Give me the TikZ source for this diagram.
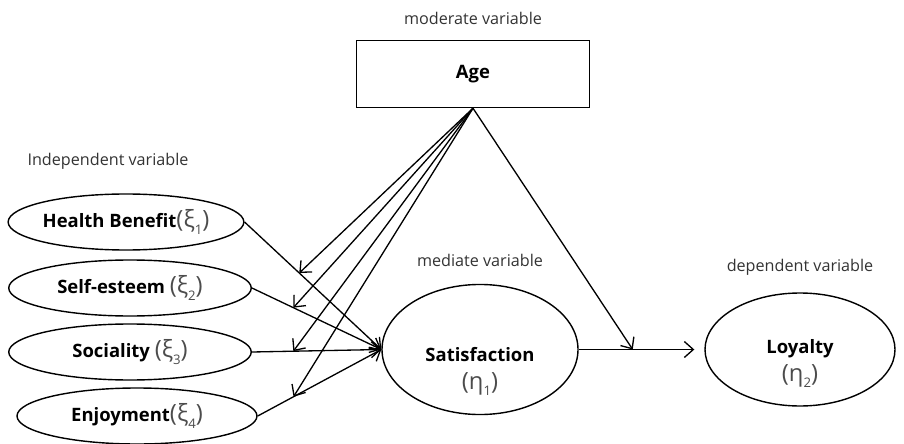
\documentclass[tikz,border=0pt]{standalone}
\usepackage{fontspec}
\setmainfont{Open Sans}
\usetikzlibrary{positioning, shapes.geometric, arrows.meta, calc}

\newcommand{\latvar}[2]{{\mdseries\fontsize{13.5}{13.5}\selectfont\color{black!70}(#1\raisebox{-0.5ex}{\fontsize{7.5}{7.5}\selectfont #2})}}

\begin{document}
\begin{tikzpicture}[
  font=\fontsize{10.5}{12}\selectfont,
  var/.style={draw, ellipse, line width=0.8pt, minimum width=4.85cm,
              minimum height=1.12cm, inner sep=0pt, font=\fontsize{10.5}{12}\selectfont\bfseries},
  bigvar/.style={draw, ellipse, line width=0.8pt, align=center, inner sep=0pt,
                 font=\fontsize{10.5}{14}\selectfont\bfseries},
  modbox/.style={draw, line width=0.8pt, minimum width=4.66cm, minimum height=1.34cm,
                 font=\fontsize{10.5}{12}\selectfont\bfseries},
  lbl/.style={font=\fontsize{9.2}{11}\selectfont, text=black!80},
  link/.style={-{Straight Barb[length=1.8mm, width=3.2mm]}, line width=0.75pt},
]

\useasboundingbox (0,0) rectangle (18.08,8.86);

\node[modbox] (age) at (9.46,7.38) {Age};
\node[lbl, above=0.18cm of age] (modlbl) {moderate variable};

\node[lbl] (indlbl) at (2.16,5.64) {Independent variable};
\node[var, minimum width=4.7cm] (hb) at (2.52,4.42) {Health Benefit\latvar{ξ}{1}};
\node[var] (se) at (2.60,3.10) {Self-esteem \latvar{ξ}{2}};
\node[var] (so) at (2.60,1.82) {Sociality \latvar{ξ}{3}};
\node[var, minimum width=4.8cm] (en) at (2.74,0.54) {Enjoyment\latvar{ξ}{4}};

\node[bigvar, minimum width=3.92cm, minimum height=2.42cm] (sat) at (9.60,1.87)
    {\rule{0pt}{1.15cm}Satisfaction \\[2pt] \latvar{η}{1}};
\node[lbl, above=0.22cm of sat] (medlbl) {mediate variable};

\node[bigvar, minimum width=3.8cm, minimum height=2.26cm] (loy) at (16.00,1.87)
    {\rule{0pt}{0.85cm}Loyalty \\[2pt] \latvar{η}{2}};
\node[lbl, above=0.22cm of loy] (deplbl) {dependent variable};

\coordinate (m1) at ($(hb.east)!0.40!(sat.west)$);
\coordinate (m2) at ($(se.east)!0.32!(sat.west)$);
\coordinate (m3) at ($(so.east)!0.32!(sat.west)$);
\coordinate (m4) at ($(en.east)!0.29!(sat.west)$);
\coordinate (m5) at ($(sat.east)!0.43!(loy.west)$);

\draw[link] (hb.east) -- (sat.west);
\draw[link] (se.east) -- (sat.west);
\draw[link] (so.east) -- (sat.west);
\draw[link] (en.east) -- (sat.west);
\draw[link, shorten >=0.2cm] (sat.east) -- (loy.west);

\draw[link] (age.south) -- (m1);
\draw[link] (age.south) -- (m2);
\draw[link] (age.south) -- (m3);
\draw[link] (age.south) -- (m4);
\draw[link] (age.south) -- (m5);

\end{tikzpicture}
\end{document}
